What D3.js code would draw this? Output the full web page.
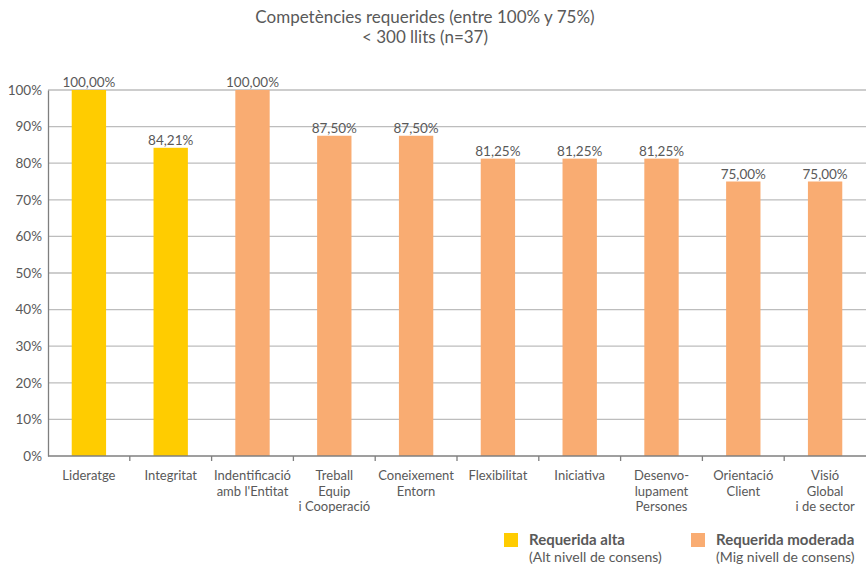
<!DOCTYPE html>
<html>
<head>
<meta charset="utf-8">
<script src="https://cdn.jsdelivr.net/npm/d3@7"></script>
<style>
  body { margin: 0; background: #fff; }
  svg { font-family: Lato, 'Open Sans', sans-serif; }
</style>
</head>
<body>
<div id="chart"></div>
<script>
// Data
const categories = [
  ['Lideratge'],
  ['Integritat'],
  ['Indentificació', "amb l'Entitat"],
  ['Treball', 'Equip', 'i Cooperació'],
  ['Coneixement', 'Entorn'],
  ['Flexibilitat'],
  ['Iniciativa'],
  ['Desenvo-', 'lupament', 'Persones'],
  ['Orientació', 'Client'],
  ['Visió', 'Global', 'i de sector']
];
const values = [100, 84.21, 100, 87.5, 87.5, 81.25, 81.25, 81.25, 75, 75];
const levels = ['alta', 'alta', 'moderada', 'moderada', 'moderada', 'moderada', 'moderada', 'moderada', 'moderada', 'moderada'];
const yTicks = [0, 10, 20, 30, 40, 50, 60, 70, 80, 90, 100];
const titleLines = ['Competències requerides (entre 100% y 75%)', '< 300 llits (n=37)'];
const legendItems = [
  { key: 'alta', label: 'Requerida alta', sub: '(Alt nivell de consens)' },
  { key: 'moderada', label: 'Requerida moderada', sub: '(Mig nivell de consens)' }
];

const colors = { alta: '#FFCC00', moderada: '#F9AC72' };
const textColor = '#595959';

const width = 866;
const height = 565;
const mLeft = 48;
const mRight = 0;
const mTop = 90;
const mBottom = 109;

const svg = d3
  .select('#chart')
  .append('svg')
  .attr('width', width)
  .attr('height', height);

// Title
svg
  .append('g')
  .selectAll('text')
  .data(titleLines)
  .join('text')
  .attr('x', 425)
  .attr('y', (d, i) => 23 + i * 20)
  .attr('text-anchor', 'middle')
  .attr('fill', textColor)
  .style('font-size', '17px')
  .text((d) => d);

const x = d3
  .scaleBand()
  .domain(d3.range(categories.length))
  .range([mLeft, width - mRight])
  .paddingInner(0.58)
  .paddingOuter(0.29);

const y = d3
  .scaleLinear()
  .domain([0, 100])
  .range([height - mBottom, mTop]);

// Grid lines
svg
  .append('g')
  .selectAll('line')
  .data(yTicks.filter((d) => d > 0))
  .join('line')
  .attr('x1', mLeft)
  .attr('x2', width - mRight)
  .attr('y1', (d) => y(d))
  .attr('y2', (d) => y(d))
  .attr('stroke', '#BDBDBD')
  .attr('stroke-width', 1.3);

// Y axis
const yAxisGroup = svg.append('g').attr('transform', `translate(${mLeft},0)`);
yAxisGroup
  .call(d3.axisLeft(y).tickValues(yTicks).tickFormat((d) => d + '%').tickSize(0).tickPadding(6))
  .call((g) => g.select('.domain').attr('stroke', '#7F7F7F').attr('stroke-width', 1.3))
  .call((g) =>
    g
      .selectAll('.tick text')
      .attr('fill', textColor)
      .style('font-size', '13.5px')
      .style('font-family', "Lato, 'Open Sans', sans-serif")
  );

// Bars
svg
  .append('g')
  .selectAll('rect')
  .data(values)
  .join('rect')
  .attr('x', (d, i) => x(i))
  .attr('y', (d) => y(d))
  .attr('width', x.bandwidth())
  .attr('height', (d) => y(0) - y(d))
  .attr('fill', (d, i) => colors[levels[i]]);

// Value labels
const fmt = (v) => v.toFixed(2).replace('.', ',') + '%';
svg
  .append('g')
  .selectAll('text')
  .data(values)
  .join('text')
  .attr('x', (d, i) => x(i) + x.bandwidth() / 2)
  .attr('y', (d) => y(d) - 3)
  .attr('text-anchor', 'middle')
  .attr('fill', textColor)
  .style('font-size', '13.5px')
  .text((d) => fmt(d));

// X axis line + ticks
const step = x.step();
const xAxis = svg.append('g');
xAxis
  .append('line')
  .attr('x1', mLeft)
  .attr('x2', width - mRight)
  .attr('y1', y(0))
  .attr('y2', y(0))
  .attr('stroke', '#7F7F7F')
  .attr('stroke-width', 1.3);
xAxis
  .selectAll('.xtick')
  .data(d3.range(1, categories.length))
  .join('line')
  .attr('class', 'xtick')
  .attr('x1', (d) => mLeft + d * step)
  .attr('x2', (d) => mLeft + d * step)
  .attr('y1', y(0))
  .attr('y2', y(0) + 5)
  .attr('stroke', '#7F7F7F')
  .attr('stroke-width', 1.3);

// Category labels
svg
  .append('g')
  .selectAll('text')
  .data(categories)
  .join('text')
  .attr('text-anchor', 'middle')
  .attr('fill', textColor)
  .style('font-size', '13px')
  .attr('transform', (d, i) => `translate(${x(i) + x.bandwidth() / 2},${y(0) + 24})`)
  .selectAll('tspan')
  .data((d) => d)
  .join('tspan')
  .attr('x', 0)
  .attr('y', (d, i) => i * 15.5)
  .text((d) => d);

// Legend
const legend = svg
  .append('g')
  .selectAll('g')
  .data(legendItems)
  .join('g')
  .attr('transform', (d, i) => `translate(${504 + i * 187},533)`);
legend
  .append('rect')
  .attr('width', 14)
  .attr('height', 14)
  .attr('fill', (d) => colors[d.key]);
legend
  .append('text')
  .attr('x', 25)
  .attr('y', 12)
  .attr('fill', textColor)
  .style('font-size', '15px')
  .style('font-weight', 'bold')
  .text((d) => d.label);
legend
  .append('text')
  .attr('x', 25)
  .attr('y', 29)
  .attr('fill', textColor)
  .style('font-size', '14px')
  .text((d) => d.sub);
</script>
</body>
</html>
